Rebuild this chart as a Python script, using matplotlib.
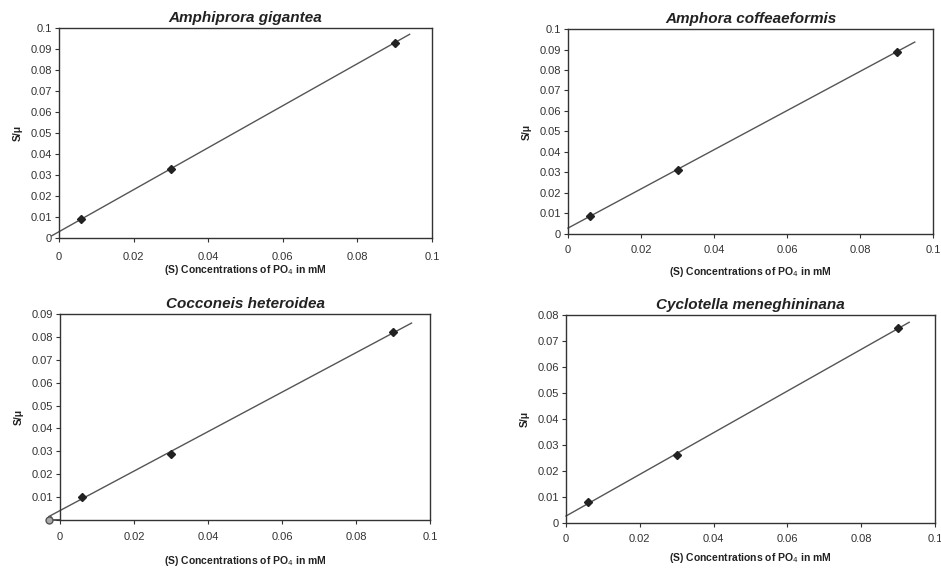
import matplotlib.pyplot as plt
import numpy as np

plt.rcParams['font.family'] = ['Liberation Sans', 'DejaVu Sans']

# species names (panel titles)
species = ['Amphiprora gigantea', 'Amphora coffeaeformis',
           'Cocconeis heteroidea', 'Cyclotella meneghininana']

# substrate concentrations (mM) and S/mu values
conc = [0.006, 0.03, 0.09]
s_mu_amphiprora = [0.009, 0.033, 0.093]
s_mu_amphora = [0.009, 0.031, 0.089]
s_mu_cocconeis = [0.010, 0.029, 0.082]
s_mu_cyclotella = [0.008, 0.026, 0.075]
all_s_mu = [s_mu_amphiprora, s_mu_amphora, s_mu_cocconeis, s_mu_cyclotella]

# extent of the drawn trend lines
fit_start = [-0.002, 0.0, -0.003, 0.0]
fit_end = [0.094, 0.095, 0.095, 0.093]

# y axis maxima
y_max = [0.1, 0.1, 0.09, 0.08]

# axes boxes in pixels: left, right, top, bottom
W, H = 941, 569
boxes = [(59, 432, 28, 238), (568, 933, 29, 234),
         (60, 430, 314, 520), (566, 935, 315, 523)]
xtick_pad = [7, 5, 6, 5]
xlab_pad = [1, 7, 8, 5]

fig = plt.figure(figsize=(W / 100, H / 100), dpi=100)
ink = '#333333'

for i in range(4):
    l, r, t, b = boxes[i]
    ax = fig.add_axes([l / W, 1 - b / H, (r - l) / W, (b - t) / H])
    ax.set_xlim(0, 0.1)
    ax.set_ylim(0, y_max[i])

    # linear trend line through the points
    slope, icept = np.polyfit(conc, all_s_mu[i], 1)
    xs = np.array([fit_start[i], fit_end[i]])
    ax.plot(xs, icept + slope * xs, color='#555555', lw=1.0, clip_on=False, zorder=2)
    ax.plot(conc, all_s_mu[i], 'D', color='#222222', ms=4, zorder=3, clip_on=False)

    if i == 2:
        # extra point left of the y axis and axis extension
        ax.plot([-0.0035, 0], [0, 0], color=ink, lw=1.2, clip_on=False)
        ax.plot([-0.003], [0], 'o', mfc='#aaaaaa', mec='#555555', ms=5, clip_on=False, zorder=3)

    ax.set_xticks(np.arange(0, 0.101, 0.02))
    ax.set_xticklabels(['0', '0.02', '0.04', '0.06', '0.08', '0.1'])
    yt = np.arange(0, y_max[i] + 1e-9, 0.01)
    ax.set_yticks(yt)
    ax.set_yticklabels(['0'] + ['%.2f' % v for v in yt[1:-1]] + ['%g' % yt[-1]])
    ax.tick_params(labelsize=8, colors=ink, length=3, width=0.8, direction='out', pad=2)
    ax.tick_params(axis='x', pad=xtick_pad[i])
    for sp in ax.spines.values():
        sp.set_color(ink)
        sp.set_linewidth(1.0)

    ax.set_title(species[i], fontsize=11, fontweight='bold', style='italic',
                 color='#222222', pad=4)
    ax.set_xlabel('(S) Concentrations of PO$_4$ in mM', fontsize=7.5,
                  fontweight='bold', color='#222222', labelpad=xlab_pad[i])
    ax.set_ylabel('S/\u03bc', fontsize=7.5, fontweight='bold', color='#222222', labelpad=6)

fig.savefig('out.png', dpi=100, facecolor='white')
